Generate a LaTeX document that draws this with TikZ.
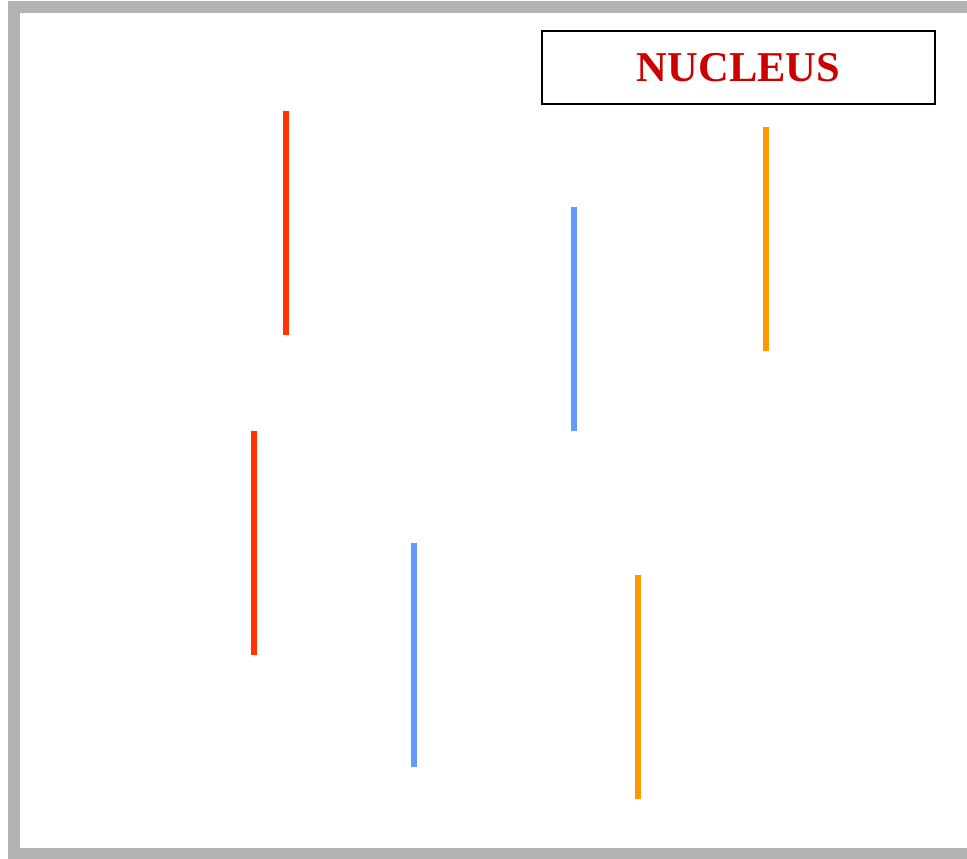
\documentclass[tikz,border=0pt]{standalone}
\usepackage{fontspec}
\setmainfont{Liberation Serif}
\definecolor{frame}{HTML}{B3B3B3}
\definecolor{redline}{HTML}{FF3300}
\definecolor{blueline}{HTML}{6699FF}
\definecolor{orangeline}{HTML}{FF9900}
\definecolor{titlered}{HTML}{CC0000}
\begin{document}
\begin{tikzpicture}[x=1pt,y=-1pt,
  rod/.style={line width=5.5pt},
  titlebox/.style={draw=black,line width=1.5pt,minimum width=393pt,minimum height=73pt,inner sep=0pt,
    font=\bfseries\fontsize{42.5}{42.5}\selectfont,text=titlered}]
\useasboundingbox (0,0) rectangle (967,859);
\draw[frame,line width=12pt,line join=miter] (990,7) -- (14,7) -- (14,854) -- (990,854);
\node[titlebox] (nucleus) at (738.5,67.5) {NUCLEUS};
\draw[rod,redline] (286,111) -- (286,335);
\draw[rod,redline] (254,431) -- (254,655);
\draw[rod,blueline] (574,207) -- (574,431);
\draw[rod,blueline] (414,543) -- (414,767);
\draw[rod,orangeline] (766,127) -- (766,351);
\draw[rod,orangeline] (638,575) -- (638,799);
\end{tikzpicture}
\end{document}
